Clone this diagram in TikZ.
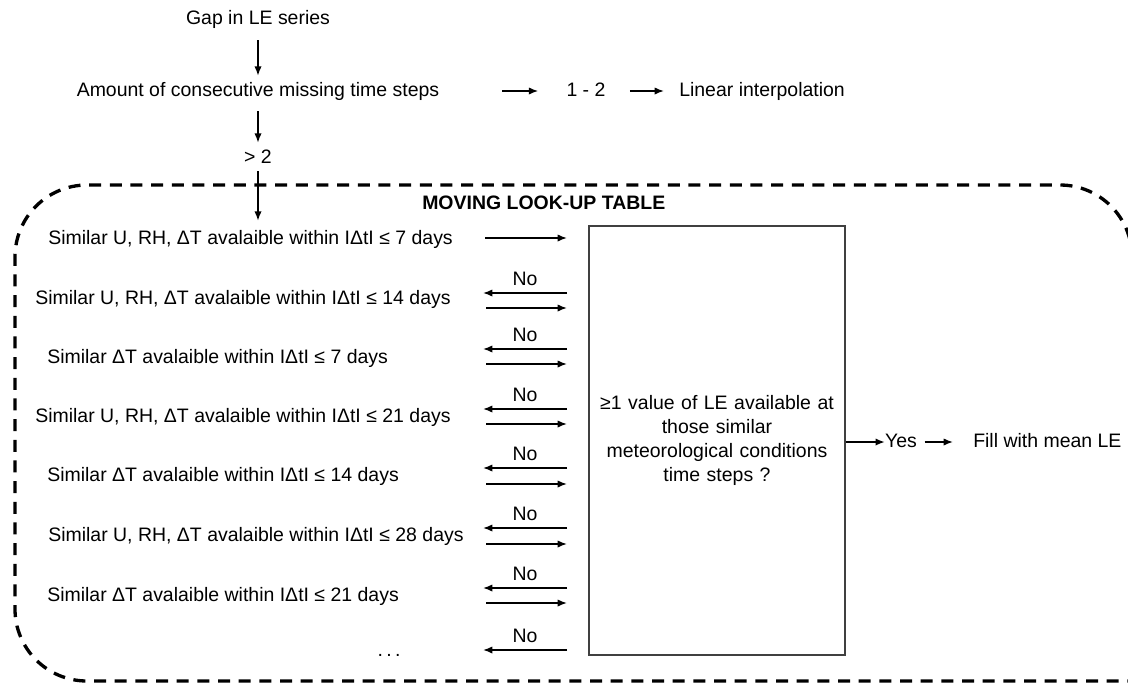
\documentclass[tikz,border=0pt]{standalone}
\usepackage{fontspec}
\setmainfont{Liberation Sans}
\usepackage{tikz}
\usetikzlibrary{quotes}
\usetikzlibrary{arrows.meta}

\begin{document}
\begin{tikzpicture}[x=0.75pt,y=-0.75pt,
    txt/.style={inner sep=0pt,text height=10.5pt,text depth=3pt,font=\fontsize{14.6}{18}\selectfont},
    arr/.style={-{Latex[length=7pt,width=5.5pt]},line width=1.2pt},
    condbox/.style={draw=black!75,line width=0.8pt,minimum width=192pt,minimum height=321.75pt,
        align=center,text width=185pt,inner sep=0pt,font=\fontsize{14.6}{18}\selectfont},
    lookup/.style={line width=2.5pt,dash pattern=on 9pt off 6.5pt,rounded corners=54pt},
    every edge quotes/.style={above=5pt,inner sep=0pt,font=\fontsize{14.6}{18}\selectfont}]

        \useasboundingbox (0,0) rectangle (1128,683);

        % moving look-up table frame (runs off the right side)
        \draw[lookup] (1160,681) -| (15,185) -| (1132,700);

        \node[txt]              (gap) at (258,19)     {Gap in LE series};
        \node[txt]              (amount) at (258,91)  {Amount of consecutive missing time steps};
        \node[txt]              (short) at (586,91)   {1 - 2};
        \node[txt,anchor=west]  (lin) at (679,91)     {Linear interpolation};
        \node[txt]              (gt) at (258,158)     {> 2};
        \node[txt,anchor=west,font=\fontsize{14.6}{18}\selectfont\bfseries] (mlt) at (422,204) {MOVING LOOK-UP TABLE};

        \draw[arr,shorten <=9pt,shorten >=4.5pt] (gap.south) -- (amount.north);
        \draw[arr,shorten <=8.25pt,shorten >=4.5pt] (amount.south) -- (gt.north);
        \draw[arr,shorten <=47pt,shorten >=21pt] (amount.east) -- (short.west);
        \draw[arr,shorten <=18pt,shorten >=11.25pt] (short.east) -- (lin.west);

        % conditions
        \node[txt,anchor=west] (r1) at (48,239)  {Similar U, RH, ΔT avalaible within IΔtI ≤ 7 days};
        \node[txt,anchor=west] (r2) at (35,299)  {Similar U, RH, ΔT avalaible within IΔtI ≤ 14 days};
        \node[txt,anchor=west] (r3) at (47,358)  {Similar ΔT avalaible within IΔtI ≤ 7 days};
        \node[txt,anchor=west] (r4) at (35,417)  {Similar U, RH, ΔT avalaible within IΔtI ≤ 21 days};
        \node[txt,anchor=west] (r5) at (47,476)  {Similar ΔT avalaible within IΔtI ≤ 14 days};
        \node[txt,anchor=west] (r6) at (48,536)  {Similar U, RH, ΔT avalaible within IΔtI ≤ 28 days};
        \node[txt,anchor=west] (r7) at (47,596)  {Similar ΔT avalaible within IΔtI ≤ 21 days};
        \node[txt]             (r8) at (389,651) {.\hspace{2.5pt}.\hspace{2.5pt}.};

        \draw[arr,shorten <=3pt,shorten >=6.75pt] (gt.south) -- (gt.south |- r1.north);

        \node[condbox] (cond) at (717,440.5)
            {≥1 value of LE available at\\ those similar\\ meteorological conditions\\ time steps ?};

        \node[txt]             (yes) at (901,442)  {Yes};
        \node[txt,anchor=west] (fill) at (973,442) {Fill with mean LE};
        \draw[arr] (cond.east |- yes) -- (yes.west);
        \draw[arr,shorten <=5.6pt,shorten >=15pt] (yes.east) -- (fill.west);

        % arrows to and from the table
        \coordinate (in1a) at (485,238); \coordinate (in1b) at (567,238);
        \draw (in1a) edge[arr] (in1b);

        \coordinate (no2a) at (567,293); \coordinate (no2b) at (483,293);
        \coordinate (in2a) at (486,308); \coordinate (in2b) at (567,308);
        \draw (no2a) edge["No", arr] (no2b);
        \draw (in2a) edge[arr] (in2b);

        \coordinate (no3a) at (567,349); \coordinate (no3b) at (483,349);
        \coordinate (in3a) at (486,364); \coordinate (in3b) at (567,364);
        \draw (no3a) edge["No", arr] (no3b);
        \draw (in3a) edge[arr] (in3b);

        \coordinate (no4a) at (567,409); \coordinate (no4b) at (483,409);
        \coordinate (in4a) at (486,424); \coordinate (in4b) at (567,424);
        \draw (no4a) edge["No", arr] (no4b);
        \draw (in4a) edge[arr] (in4b);

        \coordinate (no5a) at (567,468); \coordinate (no5b) at (483,468);
        \coordinate (in5a) at (486,484); \coordinate (in5b) at (567,484);
        \draw (no5a) edge["No", arr] (no5b);
        \draw (in5a) edge[arr] (in5b);

        \coordinate (no6a) at (567,528); \coordinate (no6b) at (483,528);
        \coordinate (in6a) at (486,544); \coordinate (in6b) at (567,544);
        \draw (no6a) edge["No", arr] (no6b);
        \draw (in6a) edge[arr] (in6b);

        \coordinate (no7a) at (567,588); \coordinate (no7b) at (483,588);
        \coordinate (in7a) at (486,603); \coordinate (in7b) at (567,603);
        \draw (no7a) edge["No", arr] (no7b);
        \draw (in7a) edge[arr] (in7b);

        \coordinate (no8a) at (567,650); \coordinate (no8b) at (483,650);
        \draw (no8a) edge["No", arr] (no8b);
\end{tikzpicture}
\end{document}
